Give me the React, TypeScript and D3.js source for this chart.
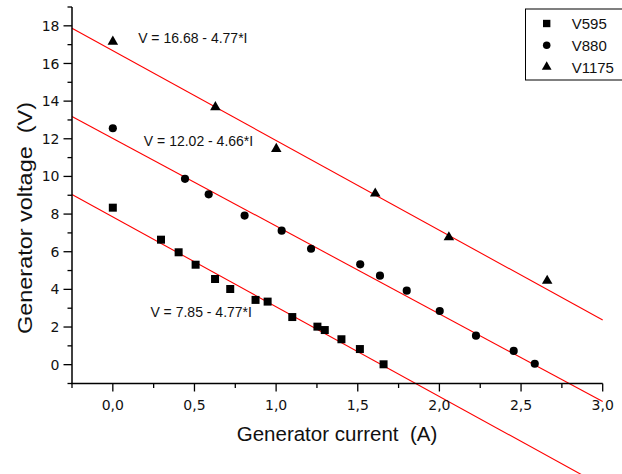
import React from "react";
import * as d3 from "d3";

const currentV595 = [0, 0.295, 0.403, 0.507, 0.626, 0.719, 0.874, 0.948, 1.099, 1.253, 1.298, 1.40, 1.513, 1.658];
const voltageV595 = [8.34, 6.64, 5.97, 5.31, 4.55, 4.02, 3.44, 3.35, 2.53, 2.02, 1.84, 1.35, 0.83, 0.02];

const currentV880 = [0, 0.442, 0.587, 0.807, 1.034, 1.214, 1.515, 1.636, 1.80, 2.002, 2.224, 2.455, 2.584];
const voltageV880 = [12.56, 9.87, 9.05, 7.92, 7.12, 6.16, 5.33, 4.73, 3.93, 2.85, 1.54, 0.73, 0.05];

const currentV1175 = [0, 0.628, 1.001, 1.607, 2.058, 2.66];
const voltageV1175 = [17.16, 13.68, 11.46, 9.09, 6.77, 4.46];

const seriesNames = ["V595", "V880", "V1175"];
const fitIntercepts = [7.85, 12.02, 16.68];
const fitSlopes = [-4.77, -4.66, -4.77];
const fitLabels = ["V = 7.85 - 4.77*I", "V = 12.02 - 4.66*I", "V = 16.68 - 4.77*I"];
const fitLabelAnchors = [[0.23, 2.55], [0.19, 11.6], [0.155, 17.1]];

const xTicksMajor = [0, 0.5, 1.0, 1.5, 2.0, 2.5, 3.0];
const xTicksMinor = [-0.25, 0.25, 0.75, 1.25, 1.75, 2.25, 2.75];
const yTicksMajor = [0, 2, 4, 6, 8, 10, 12, 14, 16, 18];
const yTicksMinor = [-1, 1, 3, 5, 7, 9, 11, 13, 15, 17, 19];

const xDomain = [-0.25, 3.0];
const yDomain = [-1, 19];

export default function App() {
  const W = 622, H = 474;
  const x = d3.scaleLinear().domain(xDomain).range([72, 602.7]);
  const y = d3.scaleLinear().domain(yDomain).range([383.5, 7]);

  const series = [
    { xs: currentV595, ys: voltageV595, type: d3.symbolSquare, size: 64 },
    { xs: currentV880, ys: voltageV880, type: d3.symbolCircle, size: 52 },
    { xs: currentV1175, ys: voltageV1175, type: d3.symbolTriangle, size: 48 },
  ];

  const fmt = (v: number) => d3.format(".1f")(v).replace(".", ",");
  const line = d3.line<number>().x((d) => x(d[0])).y((d) => y(d[1]));

  const axisFont = "'Liberation Sans', Arial, sans-serif";
  const tickFont = "'DejaVu Sans', sans-serif";
  const pre = { whiteSpace: "pre" as const };

  return (
    <svg width={W} height={H} style={{ position: "absolute", left: 0, top: 0, background: "#fff", overflow: "hidden" }}>
      <rect x={0} y={0} width={W} height={H} fill="#fff" />
      {/* fit lines */}
      {fitIntercepts.map((b, i) => {
        const pts: any = xDomain.map((xi) => [xi, b + fitSlopes[i] * xi]);
        return <path key={"fit" + i} d={line(pts) || ""} stroke="#ff0000" strokeWidth={1.1} fill="none" />;
      })}
      {/* axes */}
      <line x1={72} x2={72} y1={y(19)} y2={y(-1)} stroke="#000" strokeWidth={1.5} />
      <line x1={71.25} x2={x(3.0)} y1={y(-1)} y2={y(-1)} stroke="#000" strokeWidth={1.5} />
      {yTicksMajor.map((t) => (
        <g key={"ym" + t}>
          <line x1={63.5} x2={72} y1={y(t)} y2={y(t)} stroke="#000" strokeWidth={1.3} />
          <text x={59.5} y={y(t)} dy="0.36em" textAnchor="end" fontFamily={tickFont} fontSize={14} fill="#111">{t}</text>
        </g>
      ))}
      {yTicksMinor.map((t) => (
        <line key={"yn" + t} x1={67.5} x2={72} y1={y(t)} y2={y(t)} stroke="#000" strokeWidth={1.3} />
      ))}
      {xTicksMajor.map((t) => (
        <g key={"xm" + t}>
          <line x1={x(t)} x2={x(t)} y1={y(-1)} y2={y(-1) + 8} stroke="#000" strokeWidth={1.3} />
          <text x={x(t)} y={410} textAnchor="middle" fontFamily={tickFont} fontSize={14} fill="#111">{fmt(t)}</text>
        </g>
      ))}
      {xTicksMinor.map((t) => (
        <line key={"xn" + t} x1={x(t)} x2={x(t)} y1={y(-1)} y2={y(-1) + 4.5} stroke="#000" strokeWidth={1.3} />
      ))}
      {/* axis titles */}
      <text x={337} y={441} textAnchor="middle" fontFamily={axisFont} fontSize={20.5} fill="#111" style={pre}>{"Generator current  (A)"}</text>
      <text transform={`translate(31.7,218) rotate(-90)`} textAnchor="middle" fontFamily={axisFont} fontSize={21} fill="#111" style={pre} textLength={232} lengthAdjust="spacingAndGlyphs">{"Generator voltage  (V)"}</text>
      {/* points */}
      {series.map((s, si) =>
        s.xs.map((xi, j) => (
          <path key={"p" + si + "-" + j} transform={`translate(${x(xi)},${y(s.ys[j])})`} d={d3.symbol().type(s.type).size(s.size)() || ""} fill="#000" />
        ))
      )}
      {/* fit labels */}
      {fitLabels.map((lab, i) => (
        <text key={"fl" + i} x={x(fitLabelAnchors[i][0])} y={y(fitLabelAnchors[i][1])} fontFamily={axisFont} fontSize={14} fill="#111">{lab}</text>
      ))}
      {/* legend */}
      <rect x={525.5} y={9} width={110} height={71} fill="#fff" stroke="#000" strokeWidth={1} />
      {series.map((s, i) => (
        <g key={"lg" + i}>
          <path transform={`translate(546.7,${23.5 + i * 21.7})`} d={d3.symbol().type(s.type).size(s.size * 0.85)() || ""} fill="#000" />
          <text x={571.7} y={29.3 + i * 21.7} fontFamily={axisFont} fontSize={15} fill="#111">{seriesNames[i]}</text>
        </g>
      ))}
    </svg>
  );
}
